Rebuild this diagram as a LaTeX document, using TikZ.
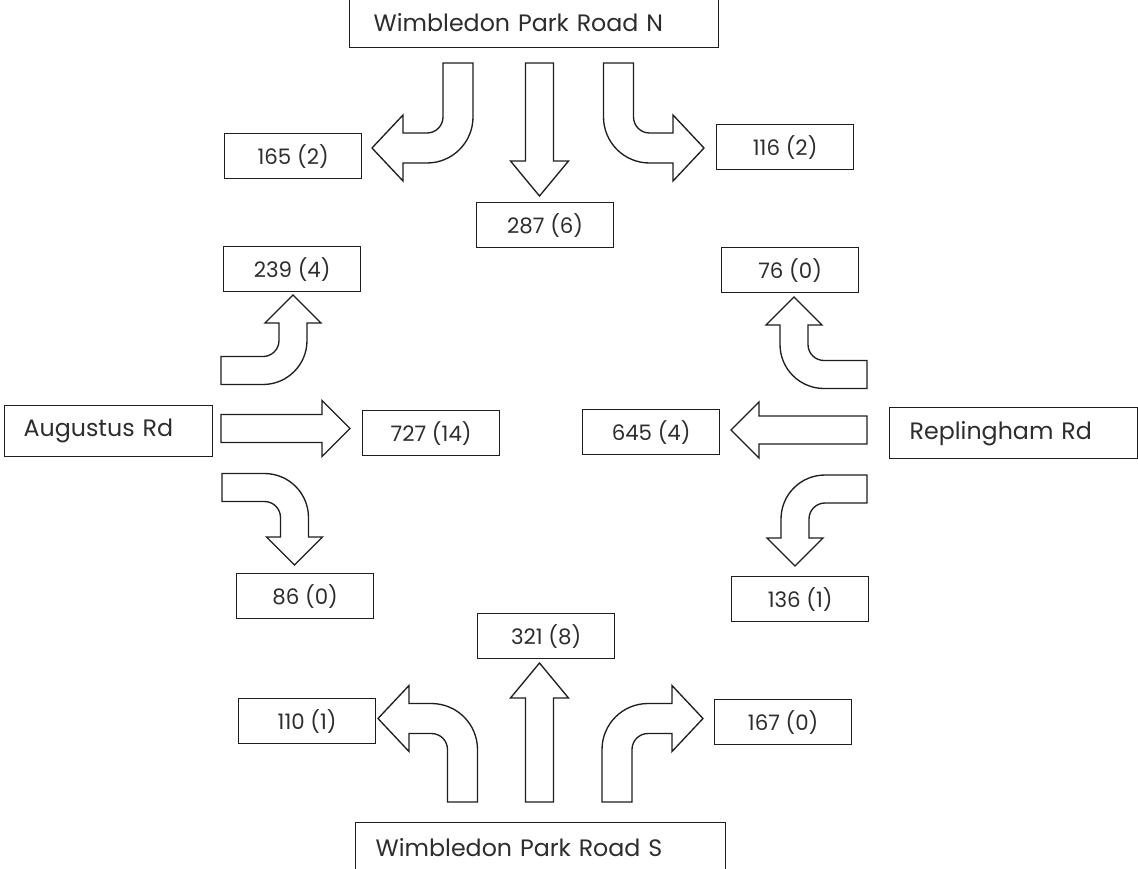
\documentclass[tikz,border=0pt]{standalone}
\usepackage{fontspec}
\setmainfont{Poppins}
\definecolor{ink}{RGB}{30,30,30}
\definecolor{label}{RGB}{45,45,45}

% bent block arrow: tail at #1, travels along local +x, turns towards local +y
\newcommand{\turnarrow}[4]{%
  \begin{scope}[shift={#1},#2]
    \pgfmathsetmacro{\ro}{\ri+2*\hh}
    \pgfmathsetmacro{\rc}{\ri+\hh}
    \draw[flow] (0,-\hh) -- (#3,-\hh) arc[start angle=-90,end angle=0,radius=\ro]
      -- ({#3+\ro},{\rc+#4}) -- ({#3+\rc+\hw},{\rc+#4}) -- ({#3+\rc},{\rc+#4+\hl})
      -- ({#3+\rc-\hw},{\rc+#4}) -- ({#3+\ri},{\rc+#4}) -- ({#3+\ri},\rc)
      arc[start angle=0,end angle=-90,radius=\ri] -- (0,\hh) -- cycle;
  \end{scope}}

% straight block arrow of length #3 along local +x
\newcommand{\straightarrow}[3]{%
  \begin{scope}[shift={#1},#2]
    \draw[flow] (0,-\hh) -- ({#3-\hl},-\hh) -- ({#3-\hl},-\hw) -- (#3,0)
      -- ({#3-\hl},\hw) -- ({#3-\hl},\hh) -- (0,\hh) -- cycle;
  \end{scope}}

\begin{document}
\begin{tikzpicture}[x=0.75pt,y=-0.75pt,
  flow/.style={draw=ink,line width=1pt,line join=miter,fill=white},
  countbox/.style={draw=ink,line width=1pt,anchor=north west,inner sep=0pt,
    minimum width=137*0.75pt,minimum height=45*0.75pt,
    font=\fontsize{16}{18}\selectfont,text=label},
  roadbox/.style={draw=ink,line width=1pt,anchor=north west,inner ysep=0pt,
    align=left,font=\fontsize{17.8}{20}\selectfont,text=label}]
\useasboundingbox (0,0) rectangle (1138,868);

% road approaches
\node[roadbox,inner xsep=18pt,text width=240.75pt,minimum height=50*0.75pt] (north) at (349,-3) {Wimbledon Park Road N};
\node[roadbox,inner xsep=15pt,text width=247.5pt,minimum height=50*0.75pt] (south) at (355,822) {Wimbledon Park Road S};
\node[roadbox,inner xsep=14.25pt,text width=127.5pt,minimum height=51*0.75pt] (west) at (4,405) {Augustus Rd};
\node[roadbox,inner xsep=15pt,text width=156pt,minimum height=51*0.75pt] (east) at (889,407) {Replingham Rd};

% turning counts
\node[countbox] (nl) at (224,133) {165 (2)};
\node[countbox] (ns) at (476,202) {287 (6)};
\node[countbox] (nr) at (716,124) {116 (2)};
\node[countbox] (wl) at (223,246) {239 (4)};
\node[countbox] (ws) at (362,410) {727 (14)};
\node[countbox] (wr) at (236,573) {86 (0)};
\node[countbox] (er) at (721,247) {76 (0)};
\node[countbox] (es) at (582,409) {645 (4)};
\node[countbox] (el) at (731,576) {136 (1)};
\node[countbox] (sl) at (238,698) {110 (1)};
\node[countbox] (ss) at (477,613) {321 (8)};
\node[countbox] (sr) at (714,699) {167 (0)};

% movement arrows, north and south approaches
\def\hh{15}\def\ri{16}\def\hw{33}\def\hl{31}
\turnarrow{(458,63)}{rotate=-90}{54}{24}
\turnarrow{(618.5,63)}{rotate=-90,yscale=-1}{54}{23.5}
\turnarrow{(462.5,802)}{rotate=90,yscale=-1}{52.5}{22.5}
\turnarrow{(617,802)}{rotate=90}{52.5}{24}
\def\hh{14}\def\hw{29}\def\hl{35}
\straightarrow{(539.5,63)}{rotate=-90}{133}
\straightarrow{(539.5,802)}{rotate=90}{139}

% movement arrows, west and east approaches
\def\hh{14}\def\ri{16}\def\hw{28}\def\hl{28}
\turnarrow{(221,370.5)}{yscale=-1}{42}{17.5}
\straightarrow{(221,428.5)}{}{129}
\turnarrow{(222,487.5)}{}{42.5}{19.5}
\turnarrow{(867,374.5)}{rotate=180}{43}{19.5}
\straightarrow{(867,430)}{rotate=180}{136}
\turnarrow{(867,489)}{rotate=180,yscale=-1}{42}{19}
\end{tikzpicture}
\end{document}
